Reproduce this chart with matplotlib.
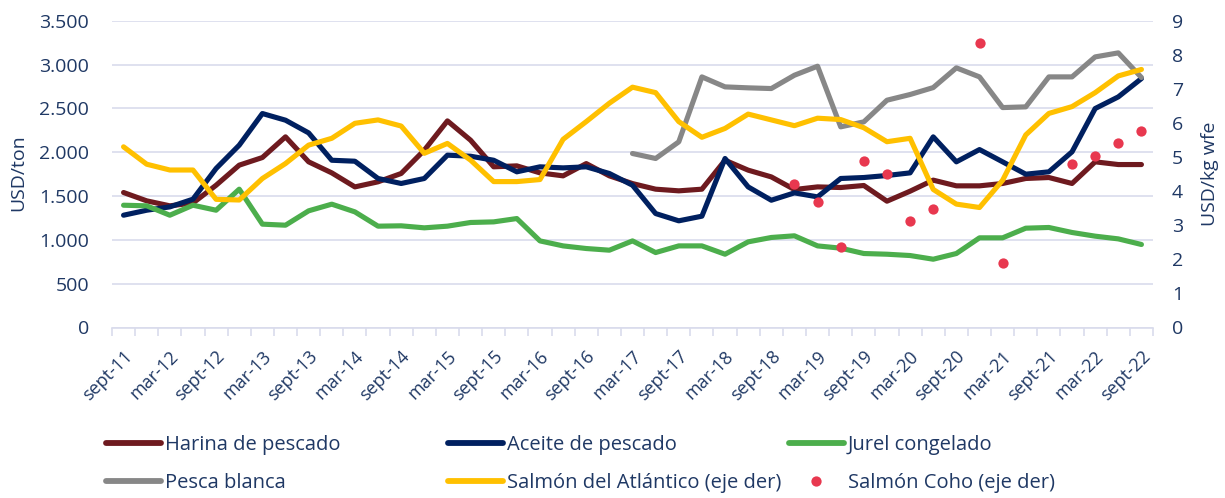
import numpy as np
import matplotlib
matplotlib.use("Agg")
import matplotlib.pyplot as plt
from matplotlib.lines import Line2D
from matplotlib.transforms import ScaledTranslation

nan = np.nan

# ---------------- data ----------------
periods = []
for yr in range(11, 23):
    for m in ["mar", "jun", "sept", "dic"]:
        periods.append(f"{m}-{yr}")
periods = periods[periods.index("sept-11"):periods.index("sept-22") + 1]

x_labels = ["sept-11", "mar-12", "sept-12", "mar-13", "sept-13", "mar-14", "sept-14",
            "mar-15", "sept-15", "mar-16", "sept-16", "mar-17", "sept-17", "mar-18",
            "sept-18", "mar-19", "sept-19", "mar-20", "sept-20", "mar-21", "sept-21",
            "mar-22", "sept-22"]

harina = [1540, 1445, 1388, 1420, 1623, 1852, 1939, 2175, 1890, 1764, 1604, 1662, 1757, 2023, 2357,
          2137, 1833, 1844, 1764, 1730, 1870, 1730, 1642, 1578, 1559, 1578, 1908, 1795, 1718, 1574, 1604,
          1597, 1620, 1441, 1555, 1681, 1616, 1616, 1643, 1700, 1711, 1643, 1890, 1859, 1859]

aceite = [1281, 1338, 1376, 1464, 1814, 2080, 2441, 2365, 2220, 1908, 1897, 1700, 1643, 1700, 1966,
          1954, 1908, 1776, 1833, 1821, 1833, 1757, 1623, 1300, 1217, 1270, 1928, 1604, 1452, 1536, 1490,
          1700, 1711, 1734, 1764, 2175, 1890, 2030, 1890, 1749, 1776, 2004, 2498, 2631, 2840]

jurel = [1395, 1388, 1281, 1395, 1338, 1578, 1179, 1167, 1331, 1407, 1319, 1156, 1160, 1137, 1156,
         1198, 1205, 1243, 988, 931, 901, 882, 988, 855, 931, 931, 836, 977, 1027, 1046, 931,
         905, 844, 836, 821, 779, 844, 1023, 1023, 1133, 1141, 1084, 1042, 1011, 947]

pesca_blanca = [nan] * 22 + [1985, 1928, 2118, 2859, 2745, 2734, 2726, 2878, 2981, 2289, 2346, 2593,
                             2658, 2737, 2962, 2859, 2509, 2517, 2859, 2859, 3087, 3133, 2852]

salmon_atl = [5.30, 4.79, 4.62, 4.62, 3.76, 3.74, 4.37, 4.81, 5.35, 5.55, 5.99, 6.09, 5.91, 5.11, 5.40,
              4.91, 4.28, 4.28, 4.34, 5.52, 6.04, 6.58, 7.05, 6.89, 6.04, 5.58, 5.84, 6.26, 6.09, 5.92, 6.14,
              6.10, 5.86, 5.45, 5.55, 4.05, 3.62, 3.52, 4.32, 5.65, 6.28, 6.48, 6.89, 7.38, 7.57]

salmon_coho = [nan] * 29 + [4.20, 3.67, 2.37, 4.87, 4.51, 3.13, 3.49, nan, 8.34, 1.88, nan, nan,
                            4.80, 5.02, 5.42, 5.77]

left_ticks = [0, 500, 1000, 1500, 2000, 2500, 3000, 3500]
left_labels = ["0", "500", "1.000", "1.500", "2.000", "2.500", "3.000", "3.500"]
right_ticks = [0, 1, 2, 3, 4, 5, 6, 7, 8, 9]

# ---------------- style ----------------
plt.rcParams["font.family"] = ["Open Sans", "DejaVu Sans"]
TXT = "#1F3864"
GRID = "#D9DCEC"
C_HAR = "#6E1A1F"
C_ACE = "#002060"
C_JUR = "#4CAE4C"
C_PES = "#878787"
C_SAL = "#FFC000"
C_COH = "#E8384F"
LW = 3.7

W, H = 1225, 498
fig = plt.figure(figsize=(W / 100, H / 100), dpi=100)
x0, x1, y0, y1 = 112, 1153, 327.5, 20.7
ax = fig.add_axes([x0 / W, 1 - y0 / H, (x1 - x0) / W, (y0 - y1) / H])
ax2 = ax.twinx()

x = np.arange(len(periods))

ax.plot(x, harina, color=C_HAR, lw=LW, solid_joinstyle="round", solid_capstyle="round", label="Harina de pescado")
ax.plot(x, aceite, color=C_ACE, lw=LW, solid_joinstyle="round", solid_capstyle="round", label="Aceite de pescado")
ax.plot(x, jurel, color=C_JUR, lw=LW, solid_joinstyle="round", solid_capstyle="round", label="Jurel congelado")
ax.plot(x, pesca_blanca, color=C_PES, lw=LW, solid_joinstyle="round", solid_capstyle="round", label="Pesca blanca")
ax2.plot(x, salmon_atl, color=C_SAL, lw=LW, solid_joinstyle="round", solid_capstyle="round",
         label="Salmón del Atlántico (eje der)")
ax2.plot(x, salmon_coho, ls="none", marker="o", ms=7.4, color=C_COH, markeredgewidth=0,
         label="Salmón Coho (eje der)")

ax.set_xlim(-0.5, len(periods) - 0.5)
ax.set_ylim(0, 3500)
ax2.set_ylim(0, 9)

for a in (ax, ax2):
    for s in a.spines.values():
        s.set_visible(False)
ax.spines["bottom"].set_visible(True)
ax.spines["bottom"].set_color(GRID)
ax.spines["bottom"].set_linewidth(1.2)

ax.set_yticks(left_ticks)
ax.set_yticklabels(left_labels)
ax.yaxis.grid(True, color=GRID, lw=1.2)
ax.set_axisbelow(True)
ax.tick_params(axis="y", length=0, pad=16.5, labelsize=14, labelcolor=TXT)

ax2.set_yticks(right_ticks)
ax2.tick_params(axis="y", length=0, pad=13.5, labelsize=14, labelcolor=TXT)

# x ticks: minor ticks at category boundaries, labels every other category
ax.set_xticks(np.arange(-0.5, len(periods), 1), minor=True)
ax.set_xticks(np.arange(0, len(periods), 2))
ax.set_xticklabels(x_labels, rotation=45, ha="right", va="center", rotation_mode="anchor")
ax.tick_params(axis="x", which="minor", length=6, width=1.2, color=GRID, direction="out")
ax.tick_params(axis="x", which="major", length=0, pad=19, labelsize=13, labelcolor=TXT)
offset = ScaledTranslation(6 / 100, 0, fig.dpi_scale_trans)
for lab in ax.get_xticklabels():
    lab.set_transform(lab.get_transform() + offset)

fig.text(18 / W, 1 - 173 / H, "USD/ton", rotation=90, ha="center", va="center", fontsize=14, color=TXT)
fig.text(1210 / W, 1 - 174 / H, "USD/kg wfe", rotation=90, ha="center", va="center", fontsize=14, color=TXT)

# legend: three columns
lines_all = ax.get_lines() + ax2.get_lines()
h = {l.get_label(): l for l in lines_all}
cols = [
    (106, ["Harina de pescado", "Pesca blanca"]),
    (448, ["Aceite de pescado", "Salmón del Atlántico (eje der)"]),
    (789, ["Jurel congelado", "Salmón Coho (eje der)"]),
]
for cx, names in cols:
    handles = []
    for n in names:
        src = h[n]
        if n.startswith("Salmón Coho"):
            handles.append(Line2D([], [], ls="none", marker="o", ms=7.4, color=C_COH, markeredgewidth=0))
        else:
            handles.append(Line2D([], [], color=src.get_color(), lw=4.2, solid_capstyle="round"))
    leg = fig.legend(handles, names, loc="center left", bbox_to_anchor=(cx / W, 1 - 464.2 / H),
                     frameon=False, fontsize=14.5, handlelength=2.72, handletextpad=0.2,
                     borderpad=0, borderaxespad=0, labelspacing=0.9, labelcolor=TXT)

fig.savefig("out.png", dpi=100)
